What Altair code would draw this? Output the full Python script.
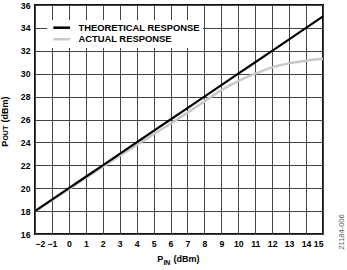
import altair as alt
import pandas as pd

# Data
p_in = [-2, -1, 0, 1, 2, 3, 4, 5, 6, 7, 8, 9, 10, 11, 12, 13, 14, 15]
theoretical = [18, 19, 20, 21, 22, 23, 24, 25, 26, 27, 28, 29, 30, 31, 32, 33, 34, 35]
actual = [18.0, 18.95, 19.92, 20.9, 21.87, 22.83, 23.78, 24.72, 25.63, 26.6, 27.58,
          28.56, 29.36, 30.0, 30.55, 30.9, 31.13, 31.3]
series_names = ["THEORETICAL RESPONSE", "ACTUAL RESPONSE"]
series_colors = ["#000000", "#c8c8c8"]
x_ticks = list(range(-2, 16))
y_ticks = list(range(16, 37, 2))

df_theo = pd.DataFrame({"pin": p_in, "pout": theoretical, "series": series_names[0]})
df_act = pd.DataFrame({"pin": p_in, "pout": actual, "series": series_names[1]})

FONT = "Liberation Sans"

x_enc = alt.X("pin:Q", scale=alt.Scale(domain=[-2, 15], nice=False, zero=False),
              axis=alt.Axis(values=x_ticks, title="", labelPadding=5, grid=True))
y_enc = alt.Y("pout:Q", scale=alt.Scale(domain=[16, 36], nice=False, zero=False),
              axis=alt.Axis(values=y_ticks, title="", labelPadding=5, grid=True))
color_enc = alt.Color(
    "series:N",
    scale=alt.Scale(domain=series_names, range=series_colors),
    legend=alt.Legend(
        title="", orient="none", legendX=12, legendY=15,
        symbolType="M-2.8,0L2.8,0", symbolSize=36, symbolStrokeWidth=2.5,
        symbolOffset=7, labelOffset=12,
        labelFont=FONT, labelFontWeight="bold", labelFontSize=9.4, labelColor="black",
        fillColor="white", padding=3, rowPadding=0.5,
    ),
)

actual_line = alt.Chart(df_act).mark_line(strokeWidth=2.5, interpolate="monotone").encode(
    x=x_enc, y=y_enc, color=color_enc)
theo_line = alt.Chart(df_theo).mark_line(strokeWidth=2.2).encode(
    x=x_enc, y=y_enc, color=color_enc)

one = pd.DataFrame({"a": [0]})

def txt(text, x, y, size, angle=0, weight="bold", color="black", align="left", baseline="alphabetic"):
    kw = dict(text=text, font=FONT, fontSize=size, fontWeight=weight, color=color,
              align=align, baseline=baseline)
    if angle:
        kw["angle"] = angle
    return alt.Chart(one).mark_text(**kw).encode(x=alt.value(x), y=alt.value(y))

# x-axis title: P_IN (dBm)
xt = [
    txt("P", 122.3, 257.3, 9),
    txt("IN", 128.4, 259.5, 7),
    txt("(dBm)", 138.5, 257.3, 9),
]
# y-axis title: P_OUT (dBm), rotated
yt = [
    txt("P", -30.5, 141.7, 9, angle=270, baseline="middle"),
    txt("OUT", -28.6, 135.6, 7, angle=270, baseline="middle"),
    txt("(dBm)", -30.5, 117.5, 9, angle=270, baseline="middle"),
]
side = txt("21184-006", 307, 227, 7.5, angle=270, weight="normal", color="#555",
           align="center", baseline="middle")

chart = alt.layer(actual_line, theo_line, *xt, *yt, side).properties(
    width=288, height=229,
    autosize=alt.AutoSizeParams(type="none"),
    padding={"left": 35, "top": 5, "right": 24, "bottom": 36},
    background="white",
).configure_axis(
    labelFont=FONT, labelFontWeight="bold", labelFontSize=8.7, labelColor="black",
    domain=False, ticks=False, gridColor="#444", gridWidth=1, gridOpacity=1,
).configure_view(stroke="#111", strokeWidth=2)

chart.save("out.html", embed_options={"renderer": "svg", "actions": False})
